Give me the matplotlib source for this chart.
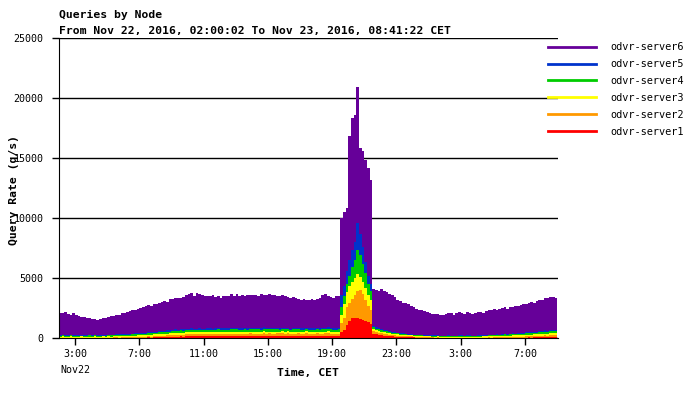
import numpy as np
import matplotlib.pyplot as plt
from matplotlib.lines import Line2D

# 10-minute samples starting Nov 22, 02:00 CET (q/s), one row per hour
server1 = [
    10, 10, 0, 10, 10, 0,
    0, 10, 10, 0, 10, 10,
    10, 0, 10, 10, 0, 10,
    10, 10, 20, 10, 10, 20,
    20, 10, 20, 30, 20, 30,
    30, 40, 30, 50, 40, 60,
    60, 70, 80, 70, 90, 100,
    110, 120, 110, 130, 120, 140,
    140, 150, 130, 150, 160, 140,
    150, 160, 150, 140, 160, 170,
    160, 150, 170, 160, 150, 170,
    170, 160, 150, 170, 160, 180,
    170, 160, 180, 170, 160, 170,
    180, 170, 160, 170, 180, 170,
    170, 180, 160, 170, 160, 170,
    160, 170, 180, 160, 170, 160,
    170, 160, 170, 180, 170, 160,
    170, 180, 160, 500, 700, 1080,
    1450, 1650, 1700, 1650, 1600, 1500,
    1400, 1300, 1200, 350, 300, 250,
    220, 200, 180, 150, 130, 110,
    100, 90, 80, 70, 60, 60,
    50, 40, 40, 30, 30, 20,
    20, 20, 10, 20, 10, 10,
    10, 0, 10, 10, 0, 10,
    10, 10, 0, 10, 10, 0,
    0, 10, 10, 0, 10, 10,
    10, 10, 20, 10, 20, 20,
    20, 30, 20, 30, 40, 30,
    40, 50, 40, 60, 50, 60,
    60, 70, 60, 80, 70, 80,
]
server2 = [
    20, 30, 20, 20, 30, 20,
    20, 20, 30, 20, 20, 30,
    20, 30, 20, 20, 30, 20,
    30, 20, 30, 40, 30, 40,
    40, 50, 40, 60, 50, 60,
    70, 60, 80, 90, 80, 100,
    100, 110, 120, 110, 130, 120,
    140, 150, 130, 160, 150, 170,
    160, 170, 180, 160, 170, 180,
    180, 190, 170, 180, 200, 190,
    190, 180, 200, 190, 210, 200,
    200, 190, 210, 200, 190, 210,
    200, 210, 190, 200, 220, 200,
    210, 200, 190, 210, 200, 220,
    200, 210, 190, 200, 190, 210,
    200, 190, 210, 200, 190, 200,
    210, 200, 190, 210, 220, 200,
    200, 190, 210, 750, 1000, 1520,
    1450, 1600, 1900, 2250, 2400, 2200,
    1800, 1400, 1100, 200, 180, 170,
    160, 150, 140, 130, 120, 110,
    100, 90, 90, 80, 70, 70,
    60, 60, 50, 50, 40, 40,
    40, 30, 30, 30, 20, 30,
    20, 30, 20, 20, 30, 20,
    20, 20, 30, 20, 20, 30,
    30, 20, 30, 30, 40, 30,
    40, 50, 40, 50, 60, 50,
    60, 70, 60, 80, 70, 80,
    90, 80, 100, 90, 110, 100,
    140, 150, 140, 160, 150, 160,
]
server3 = [
    90, 100, 90, 80, 100, 90,
    90, 80, 90, 100, 90, 80,
    90, 100, 80, 90, 100, 90,
    100, 90, 100, 110, 100, 110,
    110, 100, 120, 110, 120, 130,
    120, 130, 140, 130, 140, 150,
    140, 150, 140, 160, 150, 160,
    160, 150, 170, 160, 150, 170,
    160, 170, 150, 160, 170, 160,
    150, 160, 170, 160, 150, 170,
    160, 170, 150, 160, 170, 160,
    170, 160, 150, 170, 160, 150,
    160, 170, 160, 150, 170, 160,
    150, 160, 170, 160, 150, 160,
    170, 160, 150, 160, 170, 160,
    160, 150, 160, 170, 160, 150,
    160, 170, 160, 150, 160, 170,
    160, 150, 160, 650, 1100, 1200,
    1400, 1450, 1400, 1400, 1100, 1000,
    1000, 900, 850, 170, 160, 150,
    140, 130, 120, 120, 110, 100,
    100, 90, 90, 80, 80, 80,
    80, 70, 80, 70, 80, 70,
    80, 70, 80, 90, 80, 70,
    80, 90, 80, 70, 80, 90,
    80, 70, 80, 90, 80, 80,
    90, 80, 90, 100, 90, 100,
    100, 110, 100, 110, 120, 110,
    120, 110, 130, 120, 130, 140,
    130, 140, 130, 150, 140, 150,
    150, 140, 160, 150, 160, 150,
]
server4 = [
    80, 70, 90, 80, 70, 80,
    80, 90, 70, 80, 80, 90,
    70, 80, 90, 80, 70, 80,
    80, 90, 80, 90, 100, 90,
    90, 100, 90, 100, 110, 100,
    110, 120, 110, 130, 120, 130,
    130, 140, 150, 140, 150, 160,
    160, 170, 160, 180, 170, 180,
    180, 190, 170, 180, 190, 180,
    170, 180, 190, 180, 170, 190,
    180, 190, 180, 170, 190, 180,
    190, 180, 170, 190, 180, 190,
    180, 170, 190, 180, 190, 180,
    170, 180, 190, 180, 170, 180,
    190, 180, 170, 180, 190, 180,
    180, 190, 180, 170, 180, 190,
    180, 170, 190, 180, 190, 180,
    170, 180, 190, 700, 700, 700,
    900, 1200, 1500, 2000, 1800, 1500,
    1200, 900, 800, 160, 150, 140,
    130, 120, 110, 100, 90, 90,
    80, 80, 70, 70, 60, 60,
    60, 60, 50, 60, 50, 60,
    50, 60, 50, 60, 50, 60,
    60, 50, 60, 50, 60, 50,
    60, 50, 60, 60, 50, 60,
    60, 70, 60, 70, 80, 70,
    80, 90, 80, 90, 100, 90,
    100, 110, 100, 120, 110, 120,
    130, 120, 140, 130, 140, 150,
    150, 160, 150, 160, 170, 160,
]
server5 = [
    50, 40, 50, 60, 50, 40,
    50, 60, 40, 50, 50, 60,
    40, 50, 60, 50, 40, 50,
    50, 60, 50, 60, 70, 60,
    60, 70, 60, 70, 80, 70,
    80, 90, 80, 90, 100, 90,
    100, 110, 100, 120, 110, 120,
    120, 130, 120, 140, 130, 120,
    130, 140, 120, 130, 140, 130,
    120, 130, 140, 130, 120, 140,
    130, 140, 130, 120, 140, 130,
    140, 130, 120, 140, 130, 140,
    130, 120, 140, 130, 140, 130,
    120, 130, 140, 130, 120, 130,
    140, 130, 120, 130, 140, 130,
    130, 140, 130, 120, 130, 140,
    130, 120, 140, 130, 140, 130,
    120, 130, 140, 1000, 800, 1100,
    1300, 1400, 1500, 2300, 1800, 1400,
    900, 700, 550, 100, 100, 90,
    90, 80, 80, 70, 70, 60,
    60, 60, 50, 50, 50, 40,
    40, 40, 40, 30, 40, 30,
    40, 30, 40, 30, 40, 30,
    30, 40, 30, 40, 30, 40,
    40, 30, 40, 30, 40, 30,
    40, 50, 40, 50, 50, 40,
    50, 60, 50, 60, 60, 50,
    60, 70, 60, 70, 80, 70,
    80, 90, 80, 90, 100, 90,
    100, 110, 100, 110, 100, 110,
]
server6 = [
    1850, 1800, 1900, 1750, 1690, 1820,
    1650, 1600, 1550, 1500, 1450, 1400,
    1350, 1300, 1250, 1350, 1400, 1450,
    1480, 1530, 1570, 1590, 1640, 1730,
    1780, 1820, 1920, 1930, 1970, 2060,
    2090, 2110, 2210, 2260, 2220, 2320,
    2300, 2350, 2450, 2500, 2400, 2600,
    2520, 2620, 2670, 2570, 2720, 2770,
    2860, 2910, 2760, 2960, 2860, 2810,
    2750, 2700, 2650, 2800, 2600, 2650,
    2530, 2630, 2680, 2730, 2780, 2680,
    2770, 2720, 2820, 2670, 2770, 2720,
    2710, 2760, 2660, 2810, 2710, 2760,
    2810, 2710, 2760, 2660, 2710, 2760,
    2610, 2560, 2510, 2560, 2460, 2410,
    2360, 2410, 2310, 2360, 2410, 2310,
    2360, 2510, 2710, 2810, 2660, 2560,
    2510, 2660, 2610, 6400, 6200, 5200,
    10300, 11000, 10600, 11300, 7100, 8000,
    8500, 9000, 8700, 3120, 3110, 3100,
    3360, 3270, 3170, 3080, 3080, 2980,
    2760, 2640, 2570, 2550, 2480, 2390,
    2260, 2180, 2090, 2060, 2010, 1930,
    1880, 1830, 1780, 1730, 1680, 1730,
    1800, 1850, 1900, 1750, 1900, 1950,
    1900, 1850, 1950, 1900, 1800, 1900,
    1930, 1970, 1870, 2000, 2030, 2100,
    2120, 2030, 2160, 2180, 2190, 2130,
    2240, 2160, 2280, 2280, 2320, 2360,
    2380, 2420, 2510, 2430, 2560, 2600,
    2600, 2720, 2690, 2740, 2800, 2690,
]

names = ['odvr-server1', 'odvr-server2', 'odvr-server3',
         'odvr-server4', 'odvr-server5', 'odvr-server6']
colors = ['#ff0000', '#ff9900', '#ffff00', '#00cc00', '#0033cc', '#660099']

# hours after 02:00 Nov 22
tick_hours = [1, 5, 9, 13, 17, 21, 25, 29]
tick_labels = ['3:00', '7:00', '11:00', '15:00', '19:00', '23:00', '3:00', '7:00']

mono = 'DejaVu Sans Mono'
plt.rcParams['font.family'] = mono

fig = plt.figure(figsize=(6.93, 3.93), dpi=100)
ax = fig.add_axes([59 / 693, 55 / 393, 499 / 693, 300 / 393])

series = [server1, server2, server3, server4, server5, server6]
edges = np.arange(len(server1) + 1) / 6
bottom = np.zeros(len(server1))
for vals, col in zip(series, colors):
    top = bottom + np.array(vals, dtype=float)
    ax.stairs(top, edges, baseline=bottom, fill=True, color=col,
              linewidth=0, antialiased=False)
    bottom = top

ax.set_xlim(0, 31.05)
ax.set_ylim(0, 25000)
ax.set_yticks(range(0, 25001, 5000))
ax.yaxis.grid(True, color='black', linewidth=1)
ax.set_axisbelow(True)
ax.set_xticks(tick_hours, tick_labels)
ax.tick_params(axis='both', direction='out', length=5, width=1,
               labelsize=7.2, colors='black')
ax.tick_params(axis='y', pad=6)
ax.tick_params(axis='x', pad=3)
for s in ['top', 'right']:
    ax.spines[s].set_visible(False)

fig.text(59 / 693, 1 - 15 / 393, 'Queries by Node', fontsize=8.2,
         fontweight='bold', va='center', ha='left')
fig.text(59 / 693, 1 - 31 / 393,
         'From Nov 22, 2016, 02:00:02 To Nov 23, 2016, 08:41:22 CET',
         fontsize=8.2, fontweight='bold', va='center', ha='left')
fig.text(60 / 693, 1 - 370 / 393, 'Nov22', fontsize=7.2, va='center', ha='left')
fig.text(308 / 693, 1 - 373 / 393, 'Time, CET', fontsize=8.2,
         fontweight='bold', va='center', ha='center')
fig.text(14 / 693, 1 - 190 / 393, 'Query Rate (q/s)', fontsize=8.2,
         fontweight='bold', va='center', ha='center', rotation=90)

handles = [Line2D([], [], color=c, lw=2) for c in colors]
fig.legend(handles[::-1], names[::-1], loc='upper left',
           bbox_to_anchor=(544 / 693, 1 - 38 / 393), frameon=False,
           fontsize=7.4, handlelength=4.7, handletextpad=1.4,
           labelspacing=0.68, borderaxespad=0)

fig.savefig('out.png', dpi=100)
